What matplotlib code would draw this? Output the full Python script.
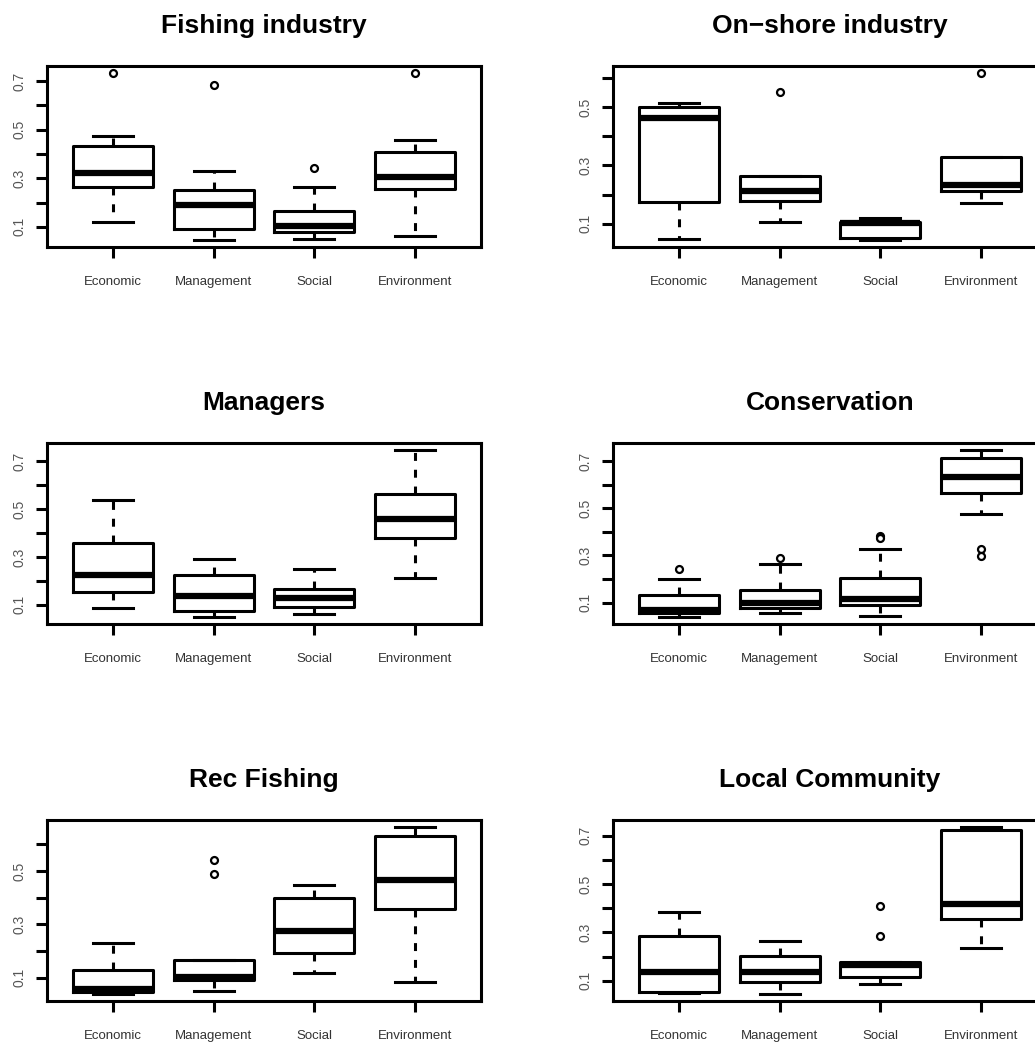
import matplotlib
matplotlib.use("Agg")
import matplotlib.pyplot as plt

categories = ['Economic', 'Management', 'Social', 'Environment']

# five-number summaries per category: (whisker low, Q1, median, Q3, whisker high)
fishing_stats = [(0.122, 0.263, 0.324, 0.432, 0.476),
                 (0.045, 0.092, 0.192, 0.251, 0.331),
                 (0.051, 0.078, 0.105, 0.165, 0.265),
                 (0.062, 0.257, 0.305, 0.410, 0.457)]
fishing_out = [[0.735], [0.685], [0.342], [0.735]]

onshore_stats = [(0.046, 0.173, 0.462, 0.501, 0.513),
                 (0.107, 0.178, 0.212, 0.262, 0.262),
                 (0.043, 0.050, 0.102, 0.107, 0.121),
                 (0.171, 0.211, 0.232, 0.329, 0.329)]
onshore_out = [[], [0.552], [], [0.618]]

managers_stats = [(0.085, 0.153, 0.224, 0.358, 0.538),
                  (0.048, 0.076, 0.135, 0.227, 0.291),
                  (0.062, 0.092, 0.127, 0.168, 0.251),
                  (0.212, 0.379, 0.461, 0.563, 0.749)]
managers_out = [[], [], [], []]

conservation_stats = [(0.038, 0.058, 0.069, 0.131, 0.199),
                      (0.055, 0.077, 0.100, 0.154, 0.264),
                      (0.043, 0.092, 0.116, 0.206, 0.326),
                      (0.474, 0.564, 0.632, 0.713, 0.748)]
conservation_out = [[0.244], [0.288], [0.384, 0.373], [0.329, 0.298]]

recfishing_stats = [(0.038, 0.047, 0.057, 0.129, 0.230),
                    (0.050, 0.090, 0.102, 0.167, 0.167),
                    (0.117, 0.192, 0.275, 0.398, 0.449),
                    (0.084, 0.356, 0.467, 0.632, 0.666)]
recfishing_out = [[], [0.542, 0.488], [], []]

community_stats = [(0.050, 0.055, 0.138, 0.284, 0.384),
                   (0.044, 0.095, 0.138, 0.204, 0.265),
                   (0.085, 0.114, 0.167, 0.177, 0.177),
                   (0.237, 0.354, 0.419, 0.723, 0.737)]
community_out = [[], [], [0.408, 0.287], []]

panels = [('Fishing industry', fishing_stats, fishing_out),
          ('On\u2212shore industry', onshore_stats, onshore_out),
          ('Managers', managers_stats, managers_out),
          ('Conservation', conservation_stats, conservation_out),
          ('Rec Fishing', recfishing_stats, recfishing_out),
          ('Local Community', community_stats, community_out)]

W, H = 1035, 1043
plt.rcParams['font.family'] = ['Liberation Sans', 'DejaVu Sans']
fig = plt.figure(figsize=(W / 100, H / 100), dpi=100)

col_x = [47, 613]
row_top = [66, 443, 820]
ax_w, ax_h = 434, 181
lw = 2.2

for i, (title, stats, outliers) in enumerate(panels):
    r, c = divmod(i, 2)
    ax = fig.add_axes([col_x[c] / W, (H - row_top[r] - ax_h) / H, ax_w / W, ax_h / H])

    boxes = []
    for (lo, q1, med, q3, hi), fl, name in zip(stats, outliers, categories):
        boxes.append(dict(whislo=lo, q1=q1, med=med, q3=q3, whishi=hi,
                          fliers=fl, label=name))
    ax.bxp(boxes, positions=[1, 2, 3, 4], widths=0.8, capwidths=0.4,
           boxprops=dict(color='black', linewidth=lw),
           medianprops=dict(color='black', linewidth=4.5, solid_capstyle='butt'),
           whiskerprops=dict(color='black', linewidth=lw, linestyle=(0, (2.6, 2.9))),
           capprops=dict(color='black', linewidth=lw),
           flierprops=dict(marker='o', markerfacecolor='white', markeredgecolor='black',
                           markersize=5, markeredgewidth=1.6))

    # R-style axis range: 4% padding around data
    vals = [v for s in stats for v in s] + [v for o in outliers for v in o]
    lo, hi = min(vals), max(vals)
    pad = 0.04 * (hi - lo)
    ax.set_ylim(lo - pad, hi + pad)
    ax.set_xlim(0.34, 4.66)

    yt = [t / 10 for t in range(1, 8) if t / 10 <= hi + pad]
    ax.set_yticks(yt)
    ax.set_yticklabels(['%.1f' % t if round(t * 10) % 2 == 1 else '' for t in yt],
                       rotation=90, va='center', fontsize=10, color='#555555')
    ax.set_xticks([1, 2, 3, 4])
    ax.set_xticklabels(categories, fontsize=9.5, color='#333333')
    ax.tick_params(axis='y', length=8, width=lw, pad=7)
    ax.tick_params(axis='x', length=8, width=lw, pad=13)
    for sp in ax.spines.values():
        sp.set_linewidth(lw)
    ax.set_title(title, fontsize=19, fontweight='bold', pad=23.5)

fig.savefig('out.png', dpi=100)
